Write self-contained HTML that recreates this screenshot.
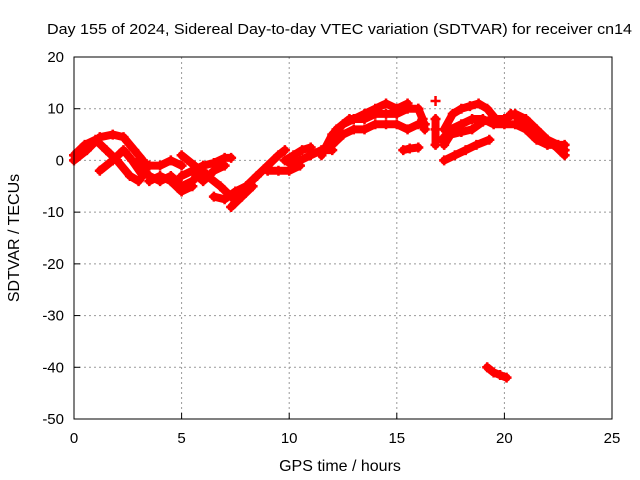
<!DOCTYPE html>
<html><head><meta charset="utf-8"><style>
body{margin:0;background:#fff}
svg{display:block;font-family:"Liberation Sans",sans-serif}
</style></head><body>
<svg id="c" width="640" height="480">
<rect width="640" height="480" fill="#fff"/>
<text x="47" y="34" font-size="15" textLength="585" lengthAdjust="spacingAndGlyphs">Day 155 of 2024, Sidereal Day-to-day VTEC variation (SDTVAR) for receiver cn14</text>
<text x="340" y="471" font-size="16" text-anchor="middle">GPS time / hours</text>
<text transform="translate(19,238) rotate(-90)" font-size="16" text-anchor="middle">SDTVAR / TECUs</text>
<g id="grid"></g><g id="marks"></g>
<rect x="74" y="57" width="538" height="362" fill="none" stroke="#000"/>
</svg>
<script>
const xTicks=[0,5,10,15,20,25];
const yTicks=[-50,-40,-30,-20,-10,0,10,20];
const trackA=[[0,0],[0.6,2],[1.2,4.5],[1.8,5],[2.3,4.5],[2.8,2],[3.2,0]];
const trackB=[[0,1],[0.5,3],[1.0,4],[1.5,2],[2,0],[2.6,-3],[3,-4]];
const trackC=[[1.2,-2],[1.8,0],[2.3,2],[2.7,0],[3.2,-3]];
const trackD=[[3,-1],[3.5,-3],[4,-4],[4.5,-3],[5,-5],[5.5,-4],[6,-2]];
const trackE=[[3,0],[3.5,-1],[4,-1],[4.5,0],[5,-1]];
const trackF=[[3.5,-4],[4,-3],[4.5,-4],[5,-6],[5.5,-5]];
const trackG=[[5.5,-2],[6,-1],[6.5,-0.5],[7,0.5],[7.3,0.5]];
const trackH=[[5,-3],[5.5,-2],[6,-4],[6.5,-2],[7,-1]];
const trackI=[[5,1],[5.6,-1],[6.2,-3],[6.8,-5],[7.3,-7],[7.6,-6]];
const trackJ=[[6.5,-7],[7,-7.5],[7.5,-6],[8,-5],[8.5,-3]];
const trackK=[[7.3,-9],[7.8,-7],[8.3,-5]];
const trackL=[[8.5,-3],[9,-1],[9.5,1],[9.8,2]];
const trackM=[[9,-2],[9.5,-2],[10,-2],[10.5,-1]];
const trackN=[[10,-0.5],[10.5,0],[11,1],[11.5,2],[12,2]];
const trackO=[[9.8,0],[10.2,1],[10.6,2],[11,2.5]];
const trackP=[[11.5,1],[12,5],[12.5,7],[13,8],[13.5,9],[14,10],[14.5,11],[15,10],[15.5,11]];
const trackQ=[[12,3],[12.5,5],[13,6],[13.5,6],[14,7],[14.5,7],[15,7],[15.5,6],[16,7],[16.3,7]];
const trackR=[[12.2,6],[12.8,8],[13.5,8],[14,9],[14.5,9],[15,9],[15.5,10],[16,10]];
const trackS=[[15.3,2],[15.6,2.3],[16,2.5]];
const trackT=[[16,10],[16.2,8],[16.3,6]];
const trackU=[[16.8,11.5]];
const trackU2=[[16.8,8],[16.8,6],[16.8,3]];
const trackV=[[17.2,6],[17.6,9],[18,10],[18.4,10.5],[18.8,11],[19.2,10],[19.6,8],[20,8],[20.5,9],[21,8],[21.5,6],[22,4],[22.5,3],[22.8,2]];
const trackW=[[17.1,4],[17.5,6],[18,7],[18.5,8],[19,8],[19.5,7],[20,7],[20.5,7],[21,6],[21.5,4],[22,3],[22.8,3]];
const trackX=[[17.2,3],[17.5,5],[18,5.5],[18.5,6],[19,7.5],[19.5,8],[20,8]];
const trackY=[[17.2,0],[17.7,1],[18.2,2],[18.7,3],[19.3,4]];
const trackZ=[[19.2,-40],[19.5,-41],[19.8,-41.5],[20.1,-42]];
const trackAA=[[20.3,9],[20.8,8],[21.3,6],[21.8,4],[22.3,3],[22.8,1]];
const tracks=[trackA,trackB,trackC,trackD,trackE,trackF,trackG,trackH,trackI,trackJ,trackK,trackL,trackM,trackN,trackO,trackP,trackQ,trackR,trackS,trackT,trackU,trackU2,trackV,trackW,trackX,trackY,trackZ,trackAA];
const NS="http://www.w3.org/2000/svg";
const X=h=>74+h*538/25, Y=v=>57+(20-v)*362/70;
const grid=document.getElementById('grid'), marks=document.getElementById('marks');
function mk(t,a,p){const e=document.createElementNS(NS,t);for(const k in a)e.setAttribute(k,a[k]);p.appendChild(e);return e;}
xTicks.forEach(t=>{
  if(t>0&&t<25){const g=mk('line',{x1:X(t),x2:X(t),y1:57,y2:419,stroke:'#999','stroke-dasharray':'2,3'},grid);
  
  }
  const tk=mk('line',{x1:X(t),x2:X(t),y1:419,y2:413,stroke:'#000'},grid);
  
  
  const l=mk('text',{x:X(t),y:443,'font-size':15,'text-anchor':'middle'},grid);l.textContent=t;
  
  
});
yTicks.forEach(t=>{
  if(t>-50&&t<20){const g=mk('line',{x1:74,x2:612,y1:Y(t),y2:Y(t),stroke:'#999','stroke-dasharray':'2,3'},grid);
  
  }
  const tk=mk('line',{x1:74,x2:80,y1:Y(t),y2:Y(t),stroke:'#000'},grid);
  
  
  const l=mk('text',{x:64,y:Y(t)+5,'font-size':15,'text-anchor':'end'},grid);l.textContent=t;
  
  
});
tracks.forEach((tr,i)=>{
  const g=mk('g',{},marks);
  
  
  if(tr.length>1){const pl=mk('polyline',{points:tr.map(p=>X(p[0])+','+Y(p[1])).join(' '),fill:'none',stroke:'#f00','stroke-width':8,'stroke-linejoin':'round','stroke-linecap':'round'},g);
  
  }
  tr.forEach(p=>{const m=mk('path',{d:`M${X(p[0])-5},${Y(p[1])}h10M${X(p[0])},${Y(p[1])-5}v10`,stroke:'#f00','stroke-width':2.5},g);
  
  });
});
</script>
</body></html>
